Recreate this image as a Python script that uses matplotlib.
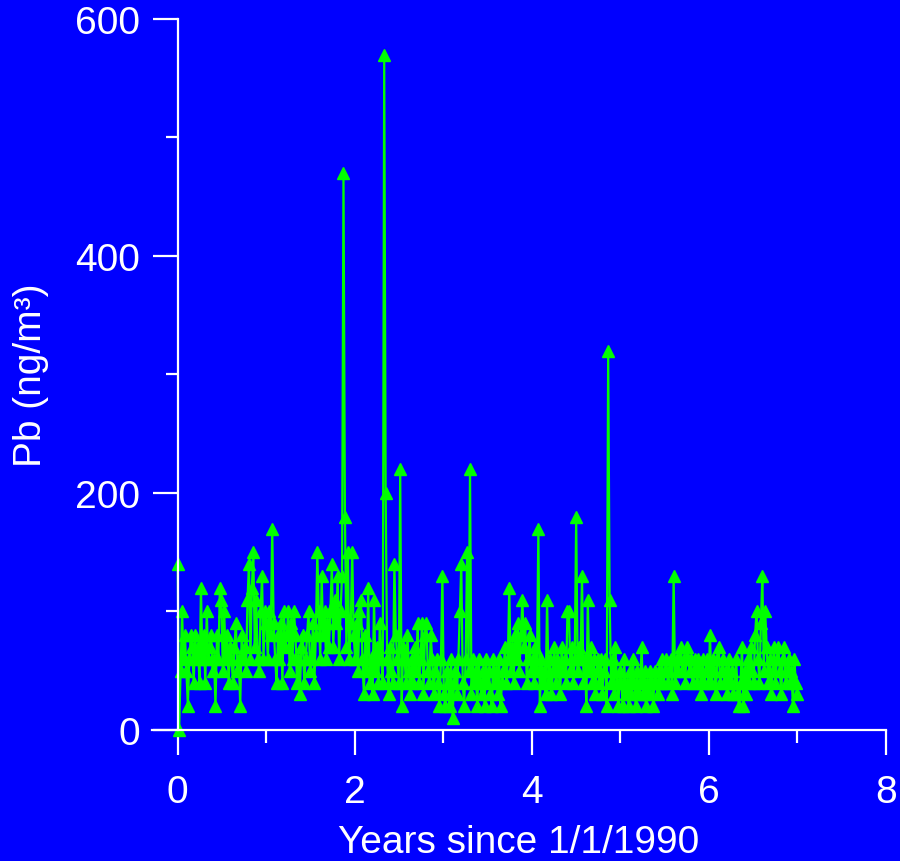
import numpy as np
import matplotlib
matplotlib.use("Agg")
import matplotlib.pyplot as plt
from matplotlib.ticker import MultipleLocator

plt.rcParams['font.family'] = ['Liberation Sans', 'DejaVu Sans']

# Pb samples, one every 6 days starting 1/1/1990 (ng/m3), one list per year
sample_interval_days = 6

pb_1990 = [140, 0, 50, 100, 60, 80, 50, 20, 60, 80, 70, 40, 80, 60, 70, 40,
           120, 60, 80, 40, 100, 60, 70, 80, 50, 60, 20, 80, 60, 120, 110, 50,
           100, 60, 80, 40, 70, 60, 40, 70, 90, 50, 60, 20, 80, 60, 70, 50,
           110, 140, 60, 120, 150, 70, 110, 60, 50, 100, 130, 60, 100]
pb_1991 = [90, 60, 100, 80, 170, 90, 60, 40, 80, 60, 90, 40, 100, 70, 80, 100,
           50, 90, 60, 100, 80, 40, 60, 30, 70, 80, 40, 60, 80, 100, 50, 60,
           90, 40, 80, 150, 100, 60, 130, 80, 100, 60, 90, 70, 100, 140, 70, 110,
           90, 130, 60, 100, 130, 470, 180, 70, 150, 60, 90, 150, 80]
pb_1992 = [60, 90, 50, 100, 110, 60, 30, 80, 50, 120, 40, 60, 30, 110, 50, 70,
           40, 90, 60, 40, 570, 200, 60, 30, 70, 50, 40, 140, 80, 60, 40, 220,
           20, 70, 60, 40, 80, 50, 30, 60, 40, 70, 50, 90, 40, 60, 90, 30,
           80, 90, 50, 40, 80, 60, 30, 50, 60, 40, 20, 60, 130]
pb_1993 = [30, 20, 50, 40, 20, 60, 10, 40, 50, 30, 60, 100, 140, 40, 20, 60,
           150, 50, 220, 30, 60, 40, 50, 20, 60, 40, 30, 50, 20, 60, 40, 50,
           30, 20, 60, 40, 50, 30, 60, 20, 40, 50, 70, 40, 60, 120, 50, 70,
           40, 80, 60, 90, 50, 80, 110, 70, 90, 40, 60, 80, 50]
pb_1994 = [60, 40, 70, 50, 170, 20, 60, 40, 50, 30, 110, 40, 60, 30, 50, 70,
           40, 60, 50, 30, 70, 50, 60, 40, 100, 100, 50, 70, 40, 60, 180, 50,
           70, 60, 130, 40, 60, 20, 110, 50, 70, 40, 60, 30, 50, 60, 40, 60,
           30, 50, 60, 20, 320, 110, 40, 60, 30, 70, 40, 20, 50]
pb_1995 = [40, 20, 60, 30, 40, 20, 50, 30, 60, 40, 20, 50, 30, 40, 70, 30,
           50, 20, 40, 30, 50, 40, 20, 50, 40, 30, 50, 40, 60, 40, 50, 60,
           40, 50, 60, 30, 130, 40, 60, 50, 60, 70, 50, 60, 40, 70, 60, 50,
           60, 40, 50, 60, 40, 60, 50, 30, 60, 40, 50, 60, 40]
pb_1996 = [80, 40, 60, 50, 30, 60, 70, 40, 50, 60, 40, 50, 30, 60, 40, 50,
           30, 40, 60, 30, 20, 40, 70, 20, 50, 30, 60, 40, 70, 50, 40, 80,
           100, 60, 40, 90, 130, 50, 100, 70, 40, 60, 30, 50, 70, 40, 60, 70,
           50, 30, 60, 70, 40, 50, 60, 40, 50, 20, 60, 40, 30]

pb = np.array(pb_1990 + pb_1991 + pb_1992 + pb_1993 + pb_1994 + pb_1995 + pb_1996)
years = np.arange(len(pb)) * sample_interval_days / 365.25

bg = '#0000FF'
fig = plt.figure(figsize=(9, 8.62), dpi=100, facecolor=bg)
ax = fig.add_axes([0.1689, 0.152, 0.9844 - 0.1689, 0.9768 - 0.152])
ax.set_facecolor(bg)

ax.plot(years, pb, color='#00FF00', lw=1.6, marker='^', ms=8.5,
        mec='#00FF00', mfc='#00FF00', clip_on=False)

ax.set_xlim(-0.29, 8)
ax.set_ylim(0, 600)
ax.xaxis.set_major_locator(MultipleLocator(2))
ax.xaxis.set_minor_locator(MultipleLocator(1))
ax.yaxis.set_major_locator(MultipleLocator(200))
ax.yaxis.set_minor_locator(MultipleLocator(100))

for s in ['top', 'right']:
    ax.spines[s].set_visible(False)
ax.spines['left'].set_position(('data', 0))
for s in ['left', 'bottom']:
    ax.spines[s].set_color('white')
    ax.spines[s].set_linewidth(1.6)

ax.tick_params(which='major', direction='out', length=18, width=1.6,
               colors='white', labelsize=28, pad=9)
ax.tick_params(axis='x', which='major', pad=14)
ax.tick_params(which='minor', direction='out', length=9, width=1.6,
               colors='white')

ax.set_xlabel('Years since 1/1/1990', fontsize=28, color='white', labelpad=10)
ax.set_ylabel('Pb (ng/m³)', fontsize=28, color='white')
ax.yaxis.set_label_coords(-0.141, 0.5)

fig.savefig('out.png', dpi=100, facecolor=bg)
